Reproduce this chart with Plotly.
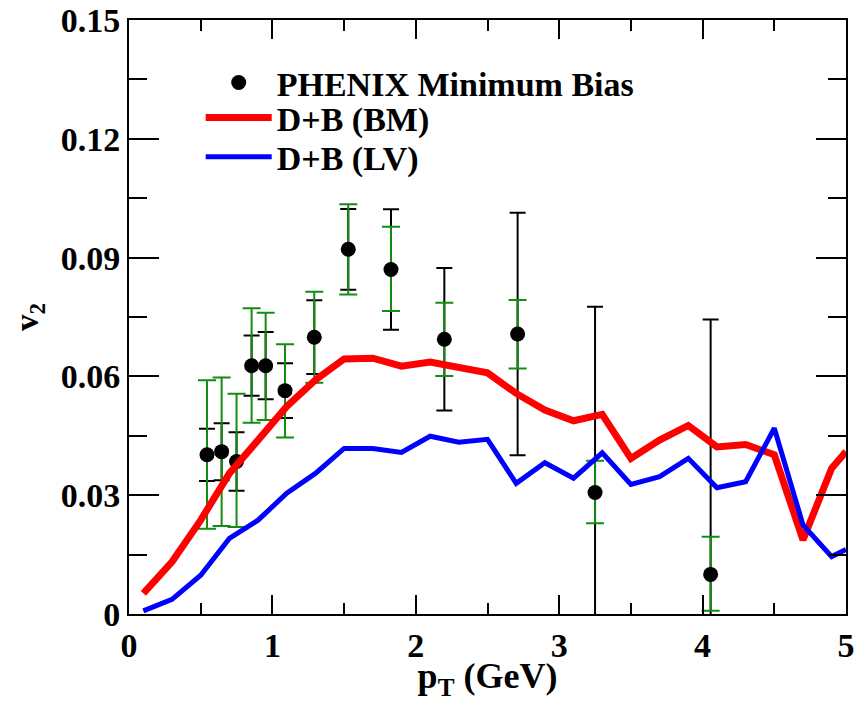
import plotly.graph_objects as go

# PHENIX data
pt_data = [0.544, 0.646, 0.75, 0.855, 0.953, 1.088, 1.292, 1.529, 1.827, 2.199, 2.71, 3.25, 4.056]
v2_data = [0.0402, 0.0410, 0.0385, 0.0627, 0.0627, 0.0564, 0.0699, 0.0921, 0.0870, 0.0694, 0.0707, 0.0307, 0.0100]
stat_err = [0.0066, 0.0072, 0.0074, 0.0076, 0.0085, 0.0069, 0.0093, 0.0102, 0.0152, 0.0180, 0.0306, 0.0469, 0.0644]
sys_err_plus = [0.0188, 0.0187, 0.0171, 0.0145, 0.0134, 0.0117, 0.0115, 0.0114, 0.0108, 0.0092, 0.0086, 0.0080, 0.0095]
sys_err_minus = [0.0187, 0.0188, 0.0165, 0.0144, 0.0137, 0.0118, 0.0115, 0.0114, 0.0105, 0.0093, 0.0087, 0.0078, 0.0092]

# Model curves
pt_model = [0.1, 0.3, 0.5, 0.7, 0.9, 1.1, 1.3, 1.5, 1.7, 1.9, 2.1, 2.3, 2.5, 2.7, 2.9,
            3.1, 3.3, 3.5, 3.7, 3.9, 4.1, 4.3, 4.5, 4.7, 4.9, 5.0]
v2_bm = [0.0052, 0.0132, 0.0237, 0.0355, 0.0439, 0.0524, 0.0591, 0.0644, 0.0646, 0.0626,
         0.0636, 0.0622, 0.0609, 0.0557, 0.0515, 0.0488, 0.0504, 0.0393, 0.0439, 0.0476,
         0.0422, 0.0428, 0.0402, 0.0187, 0.0368, 0.0410]
v2_lv = [0.0008, 0.0037, 0.0098, 0.0191, 0.0237, 0.0305, 0.0355, 0.0418, 0.0418, 0.0408,
         0.0449, 0.0434, 0.0441, 0.0330, 0.0382, 0.0343, 0.0407, 0.0327, 0.0347, 0.0393,
         0.0319, 0.0334, 0.0469, 0.0225, 0.0145, 0.0163]

x_tickvals = [0, 1, 2, 3, 4, 5]
x_ticktext = ["0", "1", "2", "3", "4", "5"]
y_tickvals = [0, 0.03, 0.06, 0.09, 0.12, 0.15]
y_ticktext = ["0", "0.03", "0.06", "0.09", "0.12", "0.15"]

legend_names = ["PHENIX Minimum Bias", "D+B (BM)", "D+B (LV)"]

FONT = "Liberation Serif, Times New Roman, serif"


def bold(s):
    return "<b>" + s + "</b>"


fig = go.Figure()

# statistical error bars (black)
fig.add_trace(go.Scatter(
    x=pt_data, y=v2_data, mode="markers",
    marker=dict(size=1, color="rgba(0,0,0,0)"),
    error_y=dict(type="data", array=stat_err, visible=True, color="black",
                 thickness=2, width=8),
    showlegend=False, hoverinfo="skip"))

# systematic error bars (green)
fig.add_trace(go.Scatter(
    x=pt_data, y=v2_data, mode="markers",
    marker=dict(size=1, color="rgba(0,0,0,0)"),
    error_y=dict(type="data", symmetric=False, array=sys_err_plus,
                 arrayminus=sys_err_minus, visible=True, color="#128c12",
                 thickness=2, width=9),
    showlegend=False, hoverinfo="skip"))

# data points
fig.add_trace(go.Scatter(
    x=pt_data, y=v2_data, mode="markers", name=bold(legend_names[0]),
    marker=dict(size=15, color="black", symbol="circle"), legend="legend"))

fig.add_trace(go.Scatter(
    x=pt_model, y=v2_bm, mode="lines", name=bold(legend_names[1]),
    line=dict(color="#ff0000", width=7), legend="legend2"))

fig.add_trace(go.Scatter(
    x=pt_model, y=v2_lv, mode="lines", name=bold(legend_names[2]),
    line=dict(color="#0000ff", width=5), legend="legend3"))

axis_common = dict(
    showline=True, linecolor="black", linewidth=2, mirror="ticks",
    ticks="inside", showgrid=False, zeroline=False, automargin=False,
    tickfont=dict(family=FONT, size=34, color="black"),
)

fig.update_xaxes(
    range=[0, 5], tickvals=x_tickvals, ticktext=[bold(t) for t in x_ticktext],
    ticklen=19, tickwidth=2, tickcolor="black",
    minor=dict(dtick=0.5, tick0=0, ticks="inside", ticklen=11, tickwidth=2, tickcolor="black"),
    title=dict(text=bold("p<sub>T</sub> (GeV)"), font=dict(family=FONT, size=36, color="black"),
               standoff=3),
    **axis_common)

fig.update_yaxes(
    range=[0, 0.15], tickvals=y_tickvals, ticktext=[bold(t) for t in y_ticktext],
    ticklen=30, tickwidth=2, tickcolor="black",
    minor=dict(dtick=0.015, tick0=0, ticks="inside", ticklen=18, tickwidth=2, tickcolor="black"),
    title=dict(text=bold("v<sub>2</sub>"), font=dict(family=FONT, size=33, color="black"),
               standoff=12),
    **axis_common)

leg_common = dict(x=0.1, xanchor="left", yanchor="middle",
                  bgcolor="rgba(0,0,0,0)", borderwidth=0,
                  font=dict(family=FONT, size=34, color="black"),
                  itemwidth=66)

fig.update_layout(
    width=863, height=701,
    margin=dict(l=129, r=17, t=20, b=87),
    font=dict(family=FONT),
    paper_bgcolor="white", plot_bgcolor="white",
    legend=dict(y=0.894, **leg_common),
    legend2=dict(y=0.835, **leg_common),
    legend3=dict(y=0.769, **leg_common),
    showlegend=True,
)

fig.write_html("out.html")
